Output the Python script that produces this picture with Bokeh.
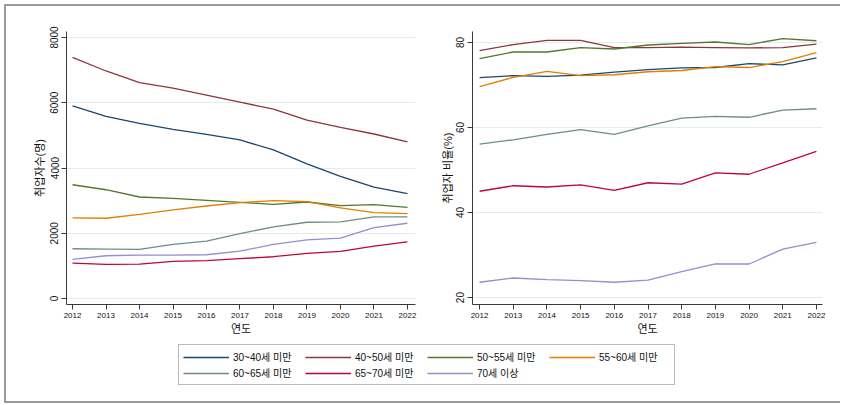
from bokeh.plotting import figure
from bokeh.models import Range1d, FixedTicker, Legend, LegendItem
from bokeh.layouts import column, row
from bokeh.embed import file_html
from bokeh.resources import INLINE

years = [2012, 2013, 2014, 2015, 2016, 2017, 2018, 2019, 2020, 2021, 2022]
year_labels = ["2012", "2013", "2014", "2015", "2016", "2017", "2018", "2019", "2020", "2021", "2022"]
series_names = ["30~40세 미만", "40~50세 미만", "50~55세 미만", "55~60세 미만",
                "60~65세 미만", "65~70세 미만", "70세 이상"]
colors = ["#1a476f", "#90353b", "#55752f", "#e37e00", "#6e8e84", "#c10534", "#938dd2"]

# 취업자수(명)
count_30_40 = [5906, 5581, 5367, 5184, 5032, 4859, 4554, 4127, 3741, 3416, 3212]
count_40_50 = [7390, 6973, 6617, 6445, 6231, 6018, 5804, 5469, 5245, 5042, 4798]
count_50_55 = [3487, 3334, 3111, 3070, 3009, 2948, 2887, 2958, 2846, 2877, 2795]
count_55_60 = [2470, 2460, 2582, 2714, 2836, 2938, 2999, 2968, 2775, 2633, 2602]
count_60_65 = [1525, 1515, 1504, 1657, 1759, 1992, 2196, 2338, 2348, 2501, 2501]
count_65_70 = [1088, 1047, 1057, 1138, 1159, 1220, 1281, 1382, 1443, 1606, 1738]
count_70p = [1199, 1311, 1332, 1332, 1342, 1454, 1657, 1799, 1850, 2175, 2307]

# 취업자 비율(%)
rate_30_40 = [71.7, 72.2, 72.0, 72.3, 73.0, 73.6, 74.0, 74.1, 75.0, 74.7, 76.35]
rate_40_50 = [78.06, 79.5, 80.5, 80.5, 78.8, 78.8, 78.9, 78.8, 78.7, 78.8, 79.6]
rate_50_55 = [76.2, 77.75, 77.75, 78.76, 78.45, 79.4, 79.8, 80.1, 79.5, 80.9, 80.4]
rate_55_60 = [69.6, 71.8, 73.2, 72.2, 72.4, 73.1, 73.4, 74.3, 74.1, 75.5, 77.6]
rate_60_65 = [56.1, 57.1, 58.4, 59.5, 58.4, 60.4, 62.2, 62.6, 62.4, 64.1, 64.4]
rate_65_70 = [45.0, 46.3, 46.0, 46.5, 45.2, 47.0, 46.7, 49.3, 49.0, 51.7, 54.4]
rate_70p = [23.6, 24.6, 24.2, 24.0, 23.6, 24.1, 26.1, 27.9, 27.9, 31.4, 33.0]

counts = [count_30_40, count_40_50, count_50_55, count_55_60, count_60_65, count_65_70, count_70p]
rates = [rate_30_40, rate_40_50, rate_50_55, rate_55_60, rate_60_65, rate_65_70, rate_70p]

left_ticks = [0, 2000, 4000, 6000, 8000]
right_ticks = [20, 40, 60, 80]

FONT = "Liberation Sans, Noto Sans CJK KR"
GRID = "#e3ebeb"
AXIS = "#3a3a3a"


def style(p, yticks, ylabel, label_standoff):
    p.xaxis.ticker = FixedTicker(ticks=years)
    p.xaxis.major_label_overrides = {y: l for y, l in zip(years, year_labels)}
    p.yaxis.ticker = FixedTicker(ticks=yticks)
    p.xgrid.visible = False
    p.ygrid.grid_line_color = GRID
    p.ygrid.grid_line_width = 1
    p.outline_line_color = None
    for ax in (p.xaxis[0], p.yaxis[0]):
        ax.axis_line_color = AXIS
        ax.major_tick_line_color = AXIS
        ax.minor_tick_line_color = None
        ax.major_tick_out = 5
        ax.major_tick_in = 0
        ax.major_label_text_font = FONT
        ax.axis_label_text_font = FONT
        ax.axis_label_text_font_style = "normal"
        ax.axis_label_text_color = "#111111"
        ax.major_label_text_color = "#111111"
    p.xaxis.major_label_text_font_size = "8px"
    p.yaxis.major_label_text_font_size = "10px"
    p.yaxis.major_label_orientation = "vertical"
    p.xaxis.axis_label = "연도"
    p.xaxis.axis_label_text_font_size = "11px"
    p.xaxis.axis_label_standoff = 2
    p.xaxis.major_label_standoff = 3
    p.yaxis.axis_label = ylabel
    p.yaxis.axis_label_text_font_size = "11px"
    p.yaxis.axis_label_standoff = label_standoff
    p.yaxis.major_label_standoff = 3


left = figure(width=424, height=331, output_backend="svg", toolbar_location=None,
              x_range=Range1d(2011.82, 2022.24), y_range=Range1d(-183, 8183),
              min_border_left=60, min_border_right=15, min_border_top=25, min_border_bottom=32)
style(left, left_ticks, "취업자수(명)", 2)
for vals, c in zip(counts, colors):
    left.line(years, vals, line_color=c, line_width=1.3)

right = figure(width=410, height=331, output_backend="svg", toolbar_location=None,
               x_range=Range1d(2011.79, 2022.18), y_range=Range1d(18.37, 82.57),
               min_border_left=42, min_border_right=18, min_border_top=25, min_border_bottom=32)
style(right, right_ticks, "취업자 비율(%)", 0)
for vals, c in zip(rates, colors):
    right.line(years, vals, line_color=c, line_width=1.3)

# legend-only panel: the series are drawn outside its (hidden) range, only the key shows
leg = figure(width=834, height=64, output_backend="svg", toolbar_location=None,
             x_range=Range1d(0, 1), y_range=Range1d(0, 1),
             min_border_left=0, min_border_right=0, min_border_top=0, min_border_bottom=0)
leg.axis.visible = False
leg.grid.visible = False
leg.outline_line_color = None
items = []
for name, vals, c in zip(series_names, counts, colors):
    r = leg.line(years, vals, line_color=c, line_width=1.3)
    items.append(LegendItem(label=name, renderers=[r]))
legend = Legend(items=items, location=(172, 16), orientation="horizontal", ncols=4,
                glyph_width=46, glyph_height=12, label_height=12, label_width=71,
                label_standoff=4, spacing=1, padding=4,
                label_text_font=FONT, label_text_font_size="10px", label_text_color="#111111",
                border_line_color="#777777", border_line_width=1, background_fill_alpha=1)
leg.add_layout(legend)

layout = column(row(left, right), leg,
                styles={"border-left": "2px solid #999999", "border-top": "2px solid #999999",
                        "border-bottom": "2px solid #999999", "margin": "4px 0 0 4px"})

open("out.html", "w").write(file_html(layout, INLINE))
